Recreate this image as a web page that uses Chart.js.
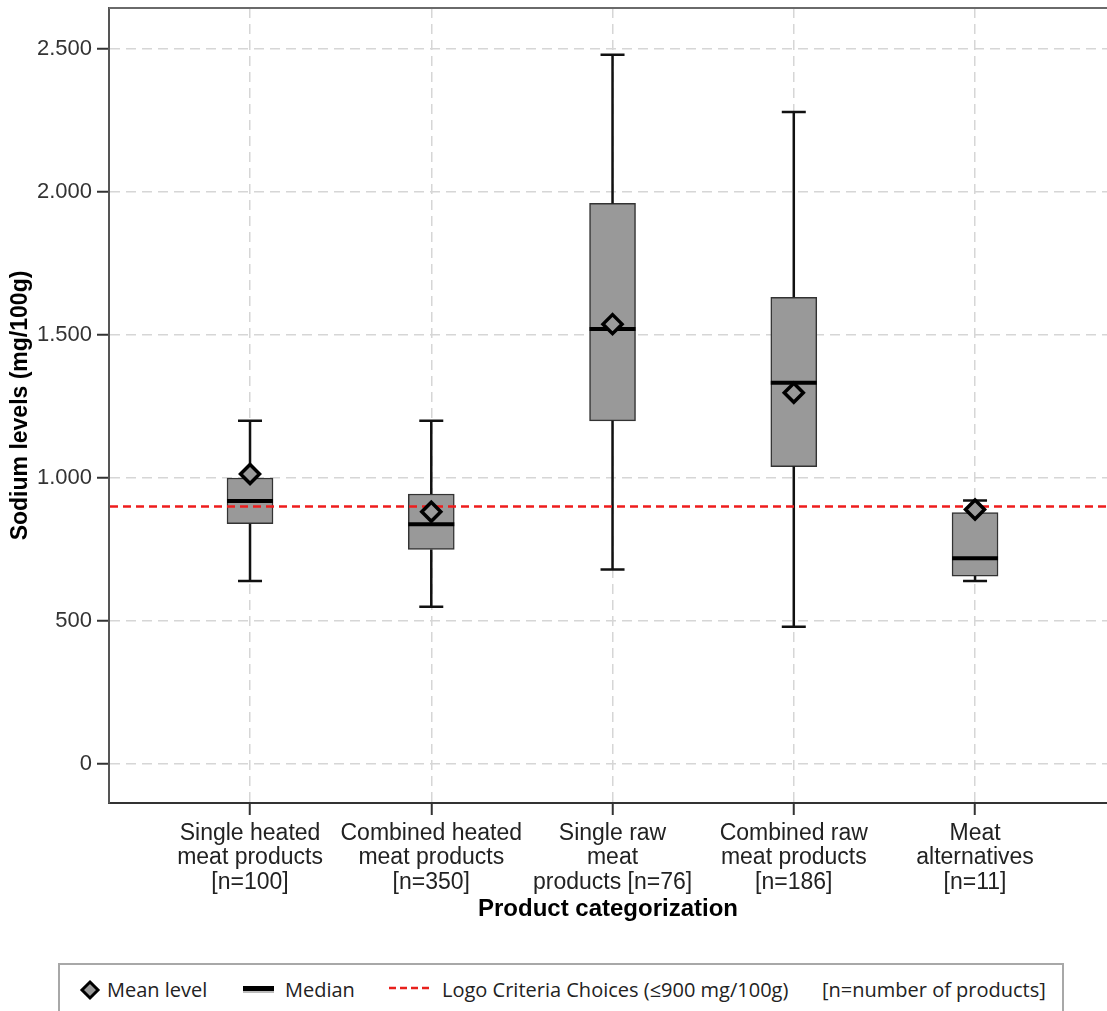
<!DOCTYPE html>
<html>
<head>
<meta charset="utf-8">
<script src="https://cdn.jsdelivr.net/npm/chart.js@4.4.1/dist/chart.umd.min.js"></script>
<style>
  html, body { margin: 0; padding: 0; background: #fff; overflow: hidden; }
  #wrap { position: relative; width: 1107px; height: 1011px; overflow: hidden; }
  #chartBox { position: absolute; left: 0; top: 0; width: 1107px; height: 940px; }
  #legendBox {
    position: absolute; left: 58px; top: 963px; width: 1006px; height: 60px;
    border: 2px solid #a8a8a8; box-sizing: border-box;
    font-family: "Open Sans", "Liberation Sans", sans-serif; font-size: 20px; color: #222;
  }
  .lg { position: absolute; top: 12px; white-space: nowrap; line-height: 26px; }
  .sym { position: absolute; }
</style>
</head>
<body>
<div id="wrap">
  <div id="chartBox"><canvas id="boxChart"></canvas></div>
  <div id="legendBox">
    <svg class="sym" style="left:19px;top:14px" width="22" height="22">
      <polygon points="11,3 19,11 11,19 3,11" fill="#9a9a9a" stroke="#000" stroke-width="3"/>
    </svg>
    <span class="lg" style="left:47px">Mean level</span>
    <svg class="sym" style="left:182px;top:18px" width="34" height="12">
      <rect x="1" y="3" width="31" height="5" fill="#000"/>
      <rect x="1" y="8" width="31" height="2" fill="#bbb"/>
    </svg>
    <span class="lg" style="left:225px">Median</span>
    <svg class="sym" style="left:328px;top:20px" width="46" height="6">
      <line x1="1" y1="3" x2="44" y2="3" stroke="#e8201c" stroke-width="2.5" stroke-dasharray="7,4"/>
    </svg>
    <span class="lg" style="left:382px">Logo Criteria Choices (≤900 mg/100g)</span>
    <span class="lg" style="left:762px">[n=number of products]</span>
  </div>
</div>
<script>
// categorias y estadisticas (mg/100g)
var categories = [
    ['Single heated', 'meat products', '[n=100]'],
    ['Combined heated', 'meat products', '[n=350]'],
    ['Single raw', 'meat', 'products [n=76]'],
    ['Combined raw', 'meat products', '[n=186]'],
    ['Meat', 'alternatives', '[n=11]']
];
var whiskerLow  = [640, 550, 680, 480, 640];
var q1          = [840, 750, 1200, 1040, 657];
var median      = [920, 838, 1521, 1333, 719];
var q3          = [1000, 944, 1960, 1632, 879];
var whiskerHigh = [1200, 1200, 2480, 2280, 921];
var meanLevel   = [1014, 882, 1538, 1298, 890];
var logoCriteria = 900;
var yTicks = [0, 500, 1000, 1500, 2000, 2500];

function fmtThousands(v) {
    return String(v).replace(/\B(?=(\d{3})+(?!\d))/g, '.');
}

var boxData = categories.map(function (c, i) { return { x: i, y: [q1[i], q3[i]] }; });
var meanData = categories.map(function (c, i) { return { x: i, y: meanLevel[i] }; });

// quitar el relleno que Chart.js reserva para las etiquetas extremas
function noPadding(scale) {
    scale.paddingTop = 0;
    scale.paddingBottom = 0;
    scale.paddingLeft = 0;
    scale.paddingRight = 0;
}

// bigotes, medianas y linea de criterio, dibujados sobre las cajas y bajo las medias
var boxExtras = {
    id: 'boxExtras',
    afterDatasetDraw: function (chart, args) {
        if (args.index !== 0) return;
        var ctx = chart.ctx, xs = chart.scales.x, ys = chart.scales.y, area = chart.chartArea;
        ctx.save();
        categories.forEach(function (c, i) {
            var px = xs.getPixelForValue(i);
            ctx.strokeStyle = '#111';
            ctx.lineWidth = 2.5;
            ctx.beginPath();
            ctx.moveTo(px, ys.getPixelForValue(q3[i]));
            ctx.lineTo(px, ys.getPixelForValue(whiskerHigh[i]));
            ctx.moveTo(px, ys.getPixelForValue(q1[i]));
            ctx.lineTo(px, ys.getPixelForValue(whiskerLow[i]));
            ctx.moveTo(px - 12, ys.getPixelForValue(whiskerHigh[i]));
            ctx.lineTo(px + 12, ys.getPixelForValue(whiskerHigh[i]));
            ctx.moveTo(px - 12, ys.getPixelForValue(whiskerLow[i]));
            ctx.lineTo(px + 12, ys.getPixelForValue(whiskerLow[i]));
            ctx.stroke();
            ctx.lineWidth = 4;
            ctx.strokeStyle = '#000';
            ctx.beginPath();
            ctx.moveTo(px - 23, ys.getPixelForValue(median[i]));
            ctx.lineTo(px + 23, ys.getPixelForValue(median[i]));
            ctx.stroke();
        });
        var ry = ys.getPixelForValue(logoCriteria);
        ctx.strokeStyle = '#ee1c1c';
        ctx.lineWidth = 2.5;
        ctx.setLineDash([8, 5]);
        ctx.beginPath();
        ctx.moveTo(area.left + 1, ry);
        ctx.lineTo(area.right, ry);
        ctx.stroke();
        ctx.restore();
    },
    afterDraw: function (chart) {
        var ctx = chart.ctx, area = chart.chartArea;
        ctx.save();
        ctx.strokeStyle = '#6a6a6a';
        ctx.lineWidth = 2;
        ctx.beginPath();
        ctx.moveTo(area.left, area.top);
        ctx.lineTo(area.right, area.top);
        ctx.stroke();
        ctx.restore();
    }
};

new Chart(document.getElementById('boxChart'), {
    type: 'bar',
    data: {
        datasets: [{
            type: 'bar',
            label: 'Box',
            data: boxData,
            backgroundColor: '#999999',
            borderColor: '#333333',
            borderWidth: 1.5,
            borderSkipped: false,
            barThickness: 46,
            order: 2
        }, {
            type: 'line',
            label: 'Mean level',
            data: meanData,
            showLine: false,
            pointStyle: 'rectRot',
            pointRadius: 9.5,
            pointBackgroundColor: '#9a9a9a',
            pointBorderColor: '#000',
            pointBorderWidth: 3.5,
            order: 1
        }]
    },
    options: {
        responsive: true,
        maintainAspectRatio: false,
        animation: false,
        layout: { autoPadding: false, padding: { top: 8, right: 0, left: 0, bottom: 0 } },
        plugins: {
            legend: { display: false },
            tooltip: { enabled: false }
        },
        scales: {
            x: {
                type: 'linear',
                offset: false,
                min: -0.778,
                max: 4.728,
                afterBuildTicks: function (scale) {
                    scale.ticks = categories.map(function (c, i) { return { value: i }; });
                },
                afterFit: function (scale) { scale.height = 137; noPadding(scale); },
                grid: {
                    offset: false,
                    color: '#d6d6d6',
                    lineWidth: 1.5,
                    tickColor: '#333',
                    tickWidth: 2,
                    tickLength: 12,
                    tickBorderDash: []
                },
                border: { display: true, color: '#333', width: 2, dash: [10, 6] },
                ticks: {
                    autoSkip: false,
                    maxRotation: 0,
                    padding: 6,
                    color: '#222',
                    font: { family: 'Liberation Sans, Arial, sans-serif', size: 23, lineHeight: 1.065 },
                    callback: function (v) { return categories[v]; }
                },
                title: {
                    display: true,
                    text: 'Product categorization',
                    color: '#000',
                    font: { family: 'Liberation Sans, Arial, sans-serif', size: 24, weight: 'bold' },
                    padding: { top: 0, bottom: 16 }
                }
            },
            y: {
                min: -136.4,
                max: 2643.4,
                afterBuildTicks: function (scale) {
                    scale.ticks = yTicks.map(function (v) { return { value: v }; });
                },
                afterFit: function (scale) { scale.width = 109; noPadding(scale); },
                grid: {
                    color: '#d6d6d6',
                    lineWidth: 1.5,
                    tickColor: '#333',
                    tickWidth: 2,
                    tickLength: 12,
                    tickBorderDash: []
                },
                border: { display: true, color: '#555', width: 2, dash: [10, 6] },
                ticks: {
                    padding: 5,
                    color: '#333',
                    font: { family: 'Liberation Sans, Arial, sans-serif', size: 22 },
                    callback: function (v) { return fmtThousands(v); }
                },
                title: {
                    display: true,
                    text: 'Sodium levels (mg/100g)',
                    color: '#000',
                    font: { family: 'Liberation Sans, Arial, sans-serif', size: 23, weight: 'bold' },
                    padding: { top: 7, bottom: 0 }
                }
            }
        }
    },
    plugins: [boxExtras]
});
</script>
</body>
</html>
